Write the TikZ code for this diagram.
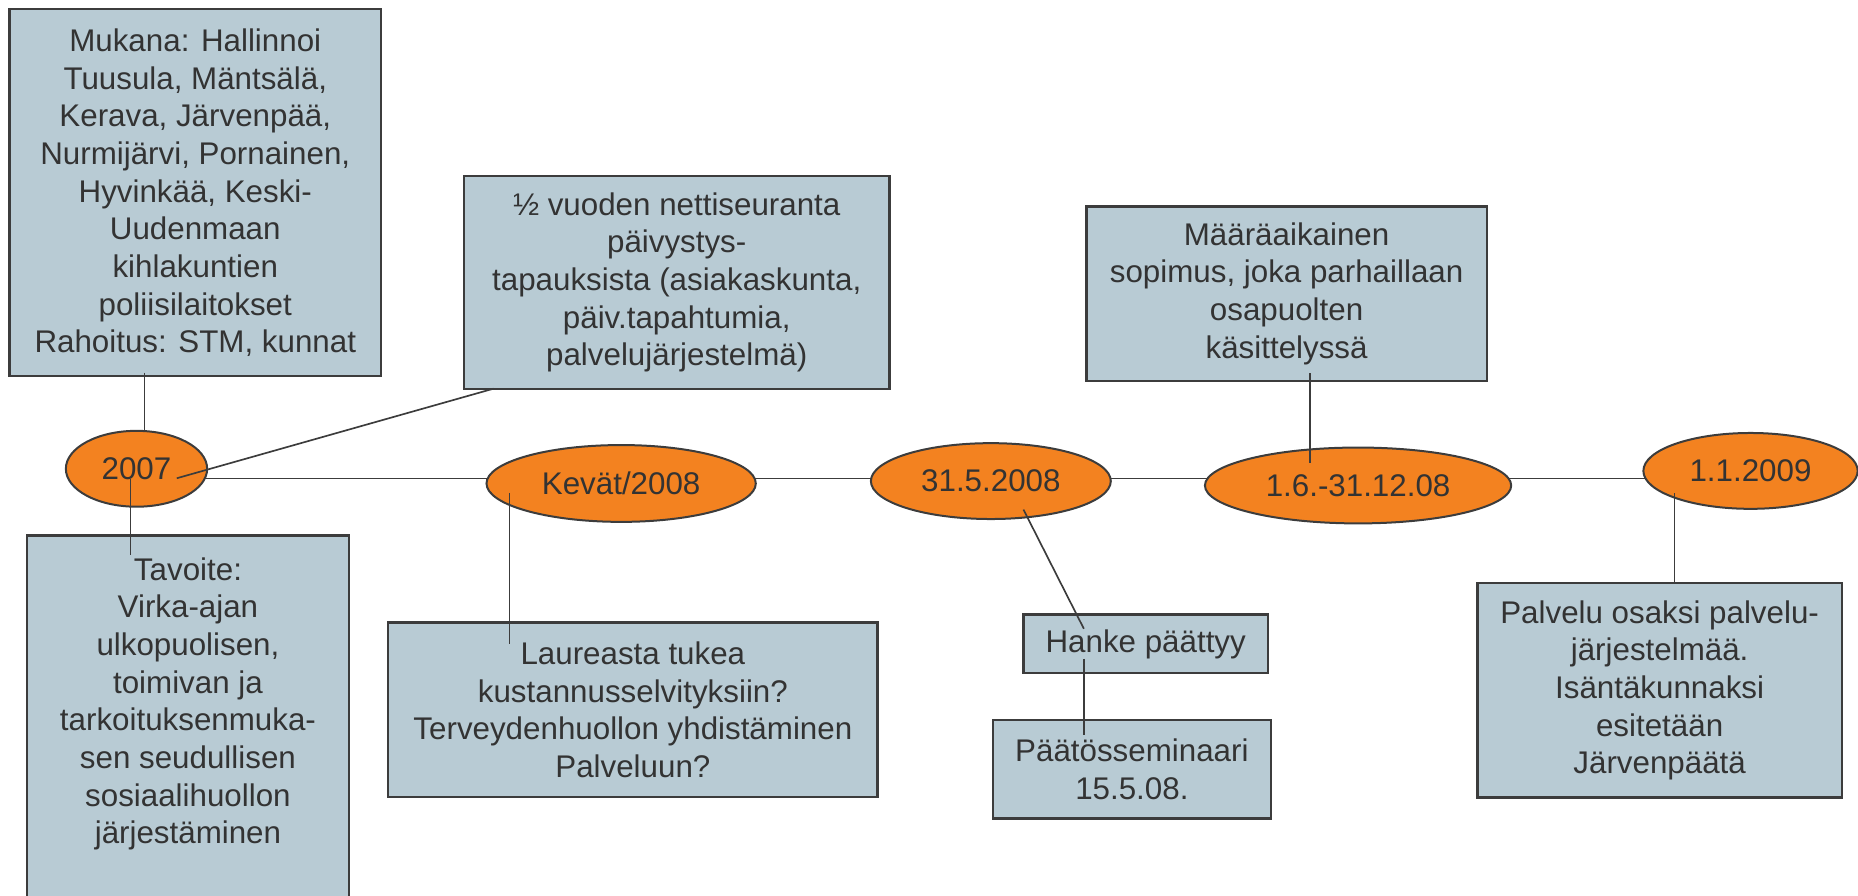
\documentclass[tikz,border=0pt]{standalone}
\usepackage{fontspec}
\setmainfont{Liberation Sans}
\usetikzlibrary{shapes.geometric, calc, backgrounds}
\definecolor{boxblue}{RGB}{184,203,212}
\definecolor{dateorange}{RGB}{243,130,32}
\definecolor{edgegrey}{RGB}{60,60,60}
\definecolor{textgrey}{RGB}{51,51,51}

\begin{document}
\begin{tikzpicture}[
        x=0.0125cm, y=-0.0125cm,
        font=\fontsize{9.4}{11.3}\selectfont,
        box/.style={rectangle, draw=edgegrey, line width=0.7pt, fill=boxblue, text=textgrey, align=center, inner sep=0pt},
        date/.style={ellipse, draw=edgegrey, line width=0.6pt, fill=dateorange, text=textgrey, inner sep=0pt, minimum height=0.8cm},
        link/.style={draw=edgegrey, line width=0.5pt}
    ]
    \useasboundingbox (0,0) rectangle (1568,756);

    \node[date, minimum width=1.49cm] (d2007) at (115.2,395.6) {2007};
    \node[date, minimum width=2.84cm, minimum height=0.81cm] (dspring) at (524.2,408) {Kevät/2008};
    \node[date, minimum width=2.53cm] (dmay) at (836.2,406) {31.5.2008};
    \node[date, minimum width=3.23cm] (dperiod) at (1146.1,409.7) {1.6.-31.12.08};
    \node[date, minimum width=2.26cm] (d2009) at (1477.3,397.4) {1.1.2009};

    \node[box, minimum width=3.92cm, minimum height=3.87cm] (partners) at (164.8,162.7)
        {Mukana: Hallinnoi\\Tuusula, Mäntsälä,\\Kerava, Järvenpää,\\Nurmijärvi, Pornainen,\\Hyvinkää, Keski-\\Uudenmaan\\kihlakuntien\\poliisilaitokset\\Rahoitus: STM, kunnat};
    \node[box, minimum width=4.49cm, minimum height=2.24cm] (survey) at (571.1,238.4)
        {½ vuoden nettiseuranta\\päivystys-\\tapauksista (asiakaskunta,\\päiv.tapahtumia,\\palvelujärjestelmä)};
    \node[box, anchor=north west, inner ysep=0.23cm] (goal) at (22,451)
        {\parbox[t][3.6cm][t]{3.39cm}{\centering Tavoite:\\Virka-ajan\\ulkopuolisen,\\toimivan ja\\tarkoituksenmuka-\\sen seudullisen\\sosiaalihuollon\\järjestäminen}};
    \node[box, minimum width=5.16cm, minimum height=1.84cm] (laurea) at (534.1,598.9)
        {Laureasta tukea\\kustannusselvityksiin?\\Terveydenhuollon yhdistäminen\\Palveluun?};
    \node[box, minimum width=2.58cm, minimum height=0.62cm] (ends) at (966.9,543.4) {Hanke päättyy};
    \node[box, minimum width=2.93cm, minimum height=1.04cm] (seminar) at (955.2,649.2) {Päätösseminaari\\15.5.08.};
    \node[box, minimum width=4.22cm, minimum height=1.84cm] (contract) at (1085.8,247.8)
        {Määräaikainen\\sopimus, joka parhaillaan\\osapuolten\\käsittelyssä};
    \node[box, minimum width=3.84cm, minimum height=2.26cm] (service) at (1400.6,582.7)
        {Palvelu osaksi palvelu-\\järjestelmää.\\Isäntäkunnaksi\\esitetään\\Järvenpäätä};

    % timeline behind the dates
    \coordinate (axis) at (0,403.7);
    \begin{scope}[on background layer]
        \draw[link] (d2007 |- axis) -- (d2009 |- axis);
    \end{scope}

    \draw[link] ($(partners.south west)+(115,-4)$) coordinate (pa) -- (pa |- d2007.north);
    \draw[link] ($(d2007.center)+(34,8)$) -- ($(survey.south west)+(26,-1)$);
    \draw[link] ($(d2007.center)+(-5,9)$) coordinate (pb) -- ($(pb |- goal.north)+(0,17)$);
    \draw[link] ($(dspring.center)+(-94.3,8)$) coordinate (pc) -- ($(pc |- laurea.north)+(0,19)$);
    \draw[link] ($(dmay.center)+(27.5,24)$) -- ($(ends.north west)+(52,13)$);
    \draw[link] ($(ends.north west)+(52,38.5)$) coordinate (pd) -- ($(pd |- seminar.north)+(0,13.3)$);
    \draw[link] ($(contract.south west)+(189.3,-7.3)$) coordinate (pe) -- ($(pe |- dperiod.center)+(0,-18.7)$);
    \draw[link] ($(d2009.center)+(-64.3,19)$) coordinate (pf) -- (pf |- service.north);

\end{tikzpicture}
\end{document}
